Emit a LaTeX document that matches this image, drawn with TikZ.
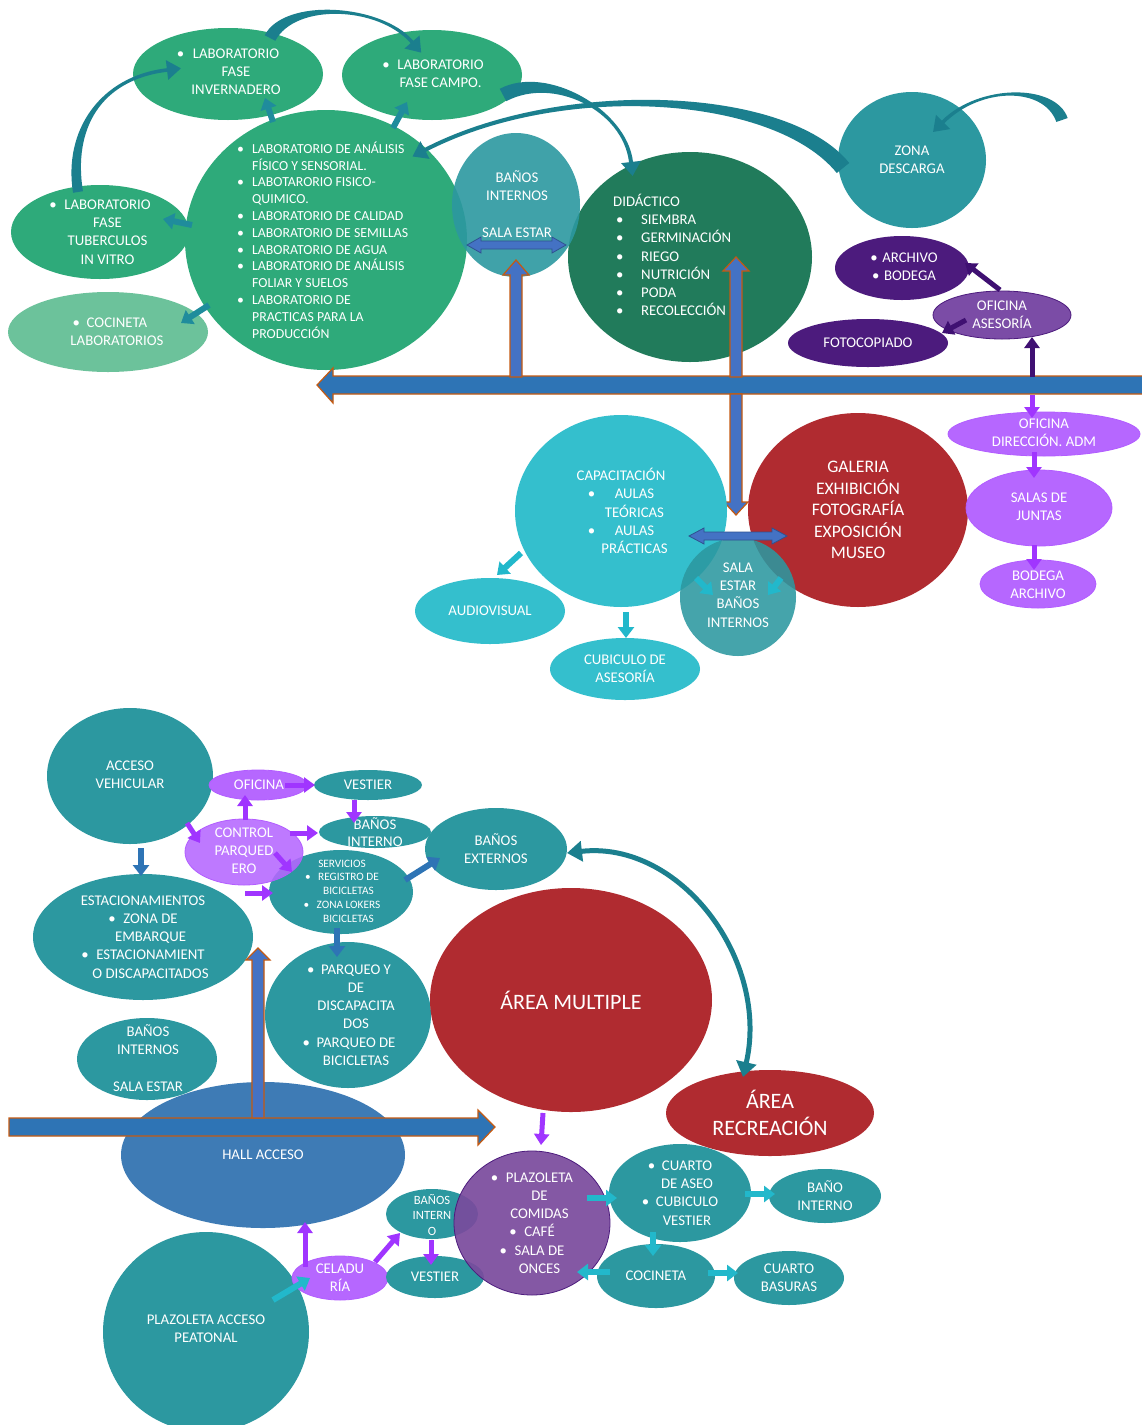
\documentclass[tikz,border=0pt]{standalone}
\usepackage{fontspec}
\setmainfont{Carlito}
\usetikzlibrary{shapes.geometric,arrows.meta,calc}
\definecolor{cgreen}{HTML}{2EAA7A}
\definecolor{clgreen}{HTML}{6CC29B}
\definecolor{cdgreen}{HTML}{217B5B}
\definecolor{cteal}{HTML}{2C98A0}
\definecolor{ccyan}{HTML}{34BFCD}
\definecolor{cred}{HTML}{B02B30}
\definecolor{cviolet}{HTML}{B667FF}
\definecolor{cvarrow}{HTML}{A035FF}
\definecolor{cdpurple}{HTML}{4C1B7D}
\definecolor{cmpurple}{HTML}{7B4CA6}
\definecolor{cppurple}{HTML}{7A4A9D}
\definecolor{cbar}{HTML}{2E74B5}
\definecolor{cvbar}{HTML}{4472C4}
\definecolor{cdblue}{HTML}{2F528F}
\definecolor{corange}{HTML}{C55A11}
\definecolor{chall}{HTML}{3E7BB5}
\definecolor{ctarrow}{HTML}{1F8C9C}
\definecolor{ccurve}{HTML}{1B7F8E}
\definecolor{ccarrow}{HTML}{22B8CB}
\definecolor{cdparrow}{HTML}{3F1072}
\definecolor{cbarrow}{HTML}{2E74B5}
\newcommand{\bulx}[1]{\makebox[#1pt][l]{•}}
\newcommand{\indx}[1]{\hspace*{#1pt}}
\newcommand{\fsN}{\fontsize{14.8}{18.2}\selectfont}
\newcommand{\fsL}{\fontsize{13.8}{16.8}\selectfont}
\newcommand{\fsG}{\fontsize{17.6}{21.5}\selectfont}
\newcommand{\fsB}{\fontsize{22}{27}\selectfont}
\newcommand{\fsS}{\fontsize{11.3}{13.7}\selectfont}
\newcommand{\fsM}{\fontsize{12.6}{15.5}\selectfont}
\newcommand{\blob}[6]{\node[blob, minimum width={2*#4pt}, minimum height={2*#5pt}, #6] (#1) at (#2,#3) {};}
\newcommand{\hdw}{10pt}
\newcommand{\hdl}{-14pt}
% tapered curved arrow: colour, P0, P1, P2, P3 (head base), tail half width, end half width
\newcommand{\taper}[7]{%
  \fill[#1] ($#2!#6!90:#3$) .. controls ($#3!#6!-90:#2$) and ($#4!#7!90:#5$) .. ($#5!#7!-90:#4$)
    -- ($#5!\hdw!-90:#4$) -- ($#5!\hdl!#4$) -- ($#5!\hdw!90:#4$) -- ($#5!#7!90:#4$)
    .. controls ($#4!#7!-90:#5$) and ($#3!#6!90:#2$) .. ($#2!#6!-90:#3$) -- cycle;}
\tikzset{
  blob/.style={ellipse, inner sep=0pt, outer sep=0pt},
  txt/.style={text=white, align=center, inner sep=0pt, font=\fsN},
  tarr/.style={draw=ctarrow, line width=6pt, -{Triangle[width=16pt,length=11pt]}},
  varr/.style={draw=cvarrow, line width=5pt, -{Triangle[width=15pt,length=11pt]}},
  carr/.style={draw=ccarrow, line width=6pt, -{Triangle[width=16pt,length=11pt]}},
  barr/.style={draw=cbarrow, line width=6pt, -{Triangle[width=16pt,length=11pt]}},
  parr/.style={draw=cdparrow, line width=5pt, -{Triangle[width=15pt,length=11pt]}},
  curv/.style={draw=ccurve, line width=6pt, -{Triangle[width=20pt,length=15pt]}},
  blockshape/.style={fill=cvbar, draw=corange, line width=1.2pt},
  barshape/.style={fill=cbar, draw=corange, line width=1.2pt},
  dblshape/.style={fill=cvbar, draw=cdblue, line width=0.8pt},
}
\begin{document}
\begin{tikzpicture}[x=1pt,y=-1pt]
\useasboundingbox (0,0) rectangle (1142,1425);
\fill[white] (0,0) rectangle (1142,1425);

% ---------------- top section
\blob{inv}{228}{74}{95}{46}{fill=cgreen}
\blob{campo}{432}{75}{90}{45}{fill=cgreen}
\blob{tub}{100}{232}{89}{47}{fill=cgreen}
\blob{coc}{108}{332}{100}{40}{fill=clgreen}
\blob{lab}{326}{240}{141}{130}{fill=cgreen}
\blob{did}{690}{257}{122}{105}{fill=cdgreen}
\blob{bi}{516}{205}{64}{72}{fill=cteal, fill opacity=0.9}
\blob{zona}{912}{160}{74}{68}{fill=cteal}
\blob{arch}{902}{268}{67}{32}{fill=cdpurple}
\blob{foto}{868}{343}{80}{24}{fill=cdpurple}
\blob{ases}{1002}{315}{69}{24}{fill=cmpurple, draw=cdpurple, line width=0.8pt}

\node[txt] (inv-t) at (228,72) {\bulx{16}LABORATORIO\\\indx{16}FASE\\\indx{16}INVERNADERO};
\node[txt] (campo-t) at (433,74) {\bulx{15}LABORATORIO\\\indx{15}FASE CAMPO.};
\node[txt] (tub-t) at (100,232) {\bulx{15}LABORATORIO\\\indx{15}FASE\\\indx{15}TUBERCULOS\\\indx{15}IN VITRO};
\node[txt] (coc-t) at (110,332) {\bulx{14}COCINETA\\\indx{14}LABORATORIOS};
\node[txt, align=left, font=\fsL, anchor=west] (lab-t) at (237,240) {\bulx{15}LABORATORIO DE ANÁLISIS\\\indx{15}FÍSICO Y SENSORIAL.\\\bulx{15}LABOTARORIO FISICO-\\\indx{15}QUIMICO.\\\bulx{15}LABORATORIO DE CALIDAD\\\bulx{15}LABORATORIO DE SEMILLAS\\\bulx{15}LABORATORIO DE AGUA\\\bulx{15}LABORATORIO DE ANÁLISIS\\\indx{15}FOLIAR Y SUELOS\\\bulx{15}LABORATORIO DE\\\indx{15}PRACTICAS PARA LA\\\indx{15}PRODUCCIÓN};
\node[txt] (bi-t) at (517,204) {BAÑOS\\INTERNOS\\[19pt]SALA ESTAR};
\node[txt, align=left, anchor=west] (did-t) at (613,255) {DIDÁCTICO\\\indx{3}\bulx{25}SIEMBRA\\\indx{3}\bulx{25}GERMINACIÓN\\\indx{3}\bulx{25}RIEGO\\\indx{3}\bulx{25}NUTRICIÓN\\\indx{3}\bulx{25}PODA\\\indx{3}\bulx{25}RECOLECCIÓN};
\node[txt] (zona-t) at (912,160) {ZONA\\DESCARGA};
\node[txt] (arch-t) at (904,267) {\bulx{12}ARCHIVO\\\bulx{12}BODEGA};
\node[txt] (ases-t) at (1002,315) {OFICINA\\ASESORÍA};
\node[txt] (foto-t) at (868,343) {FOTOCOPIADO};

% main top bar
\filldraw[barshape] (1150,376) -- (333,376) -- (333,368) -- (317,385) -- (333,403) -- (333,394) -- (1150,394) -- cycle;
\coordinate (bt1) at (1032,377);
\coordinate (bb1) at (1032,395);
% vertical block arrows
\filldraw[blockshape] (510,377) -- (510,275) -- (503,275) -- (516,260) -- (529,275) -- (522,275) -- (522,377) -- cycle;
\filldraw[blockshape] (730,377) -- (730,271) -- (723,271) -- (736,257) -- (749,271) -- (742,271) -- (742,377) -- cycle;
\filldraw[blockshape] (730,394) -- (730,502) -- (724,502) -- (736,515) -- (748,502) -- (742,502) -- (742,394) -- cycle;
% double arrow in banos internos
\filldraw[dblshape] (467,245) -- (481,237) -- (481,241) -- (552,241) -- (552,237) -- (566,245) -- (552,253) -- (552,249) -- (481,249) -- (481,253) -- cycle;

% small arrows top
\draw[tarr] ([shift={(-53,-118)}]lab.center) -- ([shift={(37,24)}]inv.center);
\draw[tarr] ([shift={(67,-112)}]lab.center) -- ([shift={(-25,27)}]campo.center);
\draw[tarr] ([shift={(-134,-15)}]lab.center) -- ([shift={(63,-13)}]tub.center);
\draw[tarr] ([shift={(-117,65)}]lab.center) -- ([shift={(73,-9)}]coc.center);
% curved tapered arrows top
\coordinate (c1s) at ([shift={(42,-36)}]inv.center);
\coordinate (c1e) at ([shift={(-20,-33)}]campo.center);
\taper{ccurve}{(c1s)}{(290,0)}{(380,5)}{(c1e)}{6pt}{1.8pt}
\coordinate (c2s) at ([shift={(-22,-40)}]tub.center);
\coordinate (c2e) at ([shift={(-61,-4)}]inv.center);
\taper{ccurve}{(c2s)}{(68,130)}{(100,78)}{(c2e)}{5pt}{1.8pt}
\coordinate (c3s) at ([shift={(71,20)}]campo.center);
\coordinate (c3e) at ([shift={(-59,-95)}]did.center);
\taper{ccurve}{(c3s)}{(550,70)}{(625,110)}{(c3e)}{7pt}{2pt}
\coordinate (c4s) at ([shift={(-69,8)}]zona.center);
\coordinate (c4e) at ([shift={(99,-90)}]lab.center);
\taper{ccurve}{(c4s)}{(780,90)}{(560,80)}{(c4e)}{8pt}{2pt}
\coordinate (ztail) at (1062,120);
\coordinate (c5e) at ([shift={(31,-38)}]zona.center);
\taper{ccurve}{(ztail)}{(1050,85)}{(980,85)}{(c5e)}{6pt}{1.8pt}
% purple arrows
\draw[parr] ([shift={(-2,-25)}]ases.center) -- ([shift={(63,-5)}]arch.center);
\draw[parr] ([shift={(-36,5)}]ases.center) -- ([shift={(74,-10)}]foto.center);
\draw[parr] (bt1) -- ([shift={(30,22)}]ases.center);

% ---------------- middle section
\blob{cap}{621}{511}{106}{96}{fill=ccyan}
\blob{gal}{858}{510}{110}{97}{fill=cred}
\blob{se}{738}{597}{58}{59}{fill=cteal, fill opacity=0.88}
\blob{aud}{490}{611}{75}{33}{fill=ccyan}
\blob{cub}{625}{669}{75}{31}{fill=ccyan}
\blob{odir}{1044}{434}{96}{22}{fill=cviolet, draw=cviolet!80!cvarrow, line width=0.8pt}
\blob{salas}{1039}{508}{73}{38}{fill=cviolet, draw=cviolet!80!cvarrow, line width=0.8pt}
\blob{bod}{1038}{584}{58}{24}{fill=cviolet, draw=cviolet!80!cvarrow, line width=0.8pt}

\node[txt] (cap-t) at (621,511) {CAPACITACIÓN\\\bulx{27}AULAS\\\indx{27}TEÓRICAS\\\bulx{27}AULAS\\\indx{27}PRÁCTICAS};
\node[txt, font=\fsG] (gal-t) at (858,510) {GALERIA\\EXHIBICIÓN\\FOTOGRAFÍA\\EXPOSICIÓN\\MUSEO};
\node[txt] (se-t) at (738,595) {SALA\\ESTAR\\BAÑOS\\INTERNOS};
\node[txt] (aud-t) at (490,611) {AUDIOVISUAL};
\node[txt] (cub-t) at (625,669) {CUBICULO DE\\ASESORÍA};
\node[txt] (odir-t) at (1044,433) {OFICINA\\DIRECCIÓN. ADM};
\node[txt] (salas-t) at (1039,507) {SALAS DE\\JUNTAS};
\node[txt] (bod-t) at (1038,585) {BODEGA\\ARCHIVO};

\filldraw[dblshape] (689,536) -- (704,528) -- (704,532) -- (772,532) -- (772,528) -- (787,536) -- (772,544) -- (772,540) -- (704,540) -- (704,544) -- cycle;
\draw[varr] (bb1) -- ([shift={(-12,-16)}]odir.center);
\draw[varr] ([shift={(-10,18)}]odir.center) -- ([shift={(-5,-30)}]salas.center);
\draw[varr] ([shift={(-5,37)}]salas.center) -- ([shift={(-4,-14)}]bod.center);
\draw[carr] ([shift={(-100,42)}]cap.center) -- ([shift={(7,-36)}]aud.center);
\draw[carr] ([shift={(5,101)}]cap.center) -- ([shift={(1,-31)}]cub.center);
\draw[carr] ([shift={(-42,-19)}]se.center) -- ([shift={(-25,-2)}]se.center);
\draw[carr] ([shift={(43,-19)}]se.center) -- ([shift={(30,-2)}]se.center);

% ---------------- bottom section
\blob{acc}{130}{776}{83}{68}{fill=cteal}
\blob{ofi}{258}{785}{49}{15}{fill=cviolet, draw=cviolet!80!cvarrow, line width=0.8pt}
\blob{ves}{368}{785}{54}{15}{fill=cteal}
\blob{bin}{375}{832}{56}{16}{fill=cteal}
\blob{serv}{341}{892}{72}{42}{fill=cteal}
\blob{ctrl}{244}{852}{59}{33}{fill=cviolet, fill opacity=0.88, draw=cviolet!80!cvarrow, line width=0.8pt}
\blob{bext}{496}{849}{71}{41}{fill=cteal}
\blob{est}{143}{937}{110}{63}{fill=cteal}
\blob{parq}{348}{1015}{83}{73}{fill=cteal}
\blob{amul}{571}{1000}{141}{112}{fill=cred}
\blob{bis}{147}{1059}{70}{41}{fill=cteal}
\blob{hall}{263}{1155}{142}{73}{fill=chall}
\blob{arec}{770}{1113}{104}{43}{fill=cred}
\blob{pac}{206}{1332}{103}{100}{fill=cteal}
\blob{cel}{340}{1278}{48}{22}{fill=cviolet, draw=cviolet!80!cvarrow, line width=0.8pt}
\blob{bin2}{432}{1214}{46}{25}{fill=cteal}
\blob{ves2}{435}{1277}{49}{21}{fill=cteal}
\blob{pcom}{532}{1223}{78}{72}{fill=cppurple, fill opacity=0.92, draw=cdpurple, line width=0.8pt}
\blob{casc}{680}{1193}{71}{49}{fill=cteal}
\blob{bint}{825}{1196}{56}{27}{fill=cteal}
\blob{coci}{656}{1276}{59}{32}{fill=cteal}
\blob{cbas}{789}{1278}{55}{27}{fill=cteal}

% bottom bar and vertical block arrow
\filldraw[barshape] (9,1118) -- (478,1118) -- (478,1110) -- (495,1127) -- (478,1145) -- (478,1136) -- (9,1136) -- cycle;
\filldraw[blockshape] (252,1118) -- (252,960) -- (246,960) -- (258,948) -- (270,960) -- (264,960) -- (264,1118) -- cycle;

\node[txt] (acc-t) at (130,775) {ACCESO\\VEHICULAR};
\node[txt] (ofi-t) at (259,785) {OFICINA};
\node[txt] (ves-t) at (368,785) {VESTIER};
\node[txt] (ctrl-t) at (244,851) {CONTROL\\PARQUED\\ERO};
\node[txt, font=\fontsize{14.8}{17}\selectfont] (bin-t) at (375,832) {BAÑOS\\INTERNO};
\node[txt, font=\fsS] (serv-t) at (342,891) {SERVICIOS\\\bulx{13}REGISTRO DE\\\indx{13}BICICLETAS\\\bulx{13}ZONA LOKERS\\\indx{13}BICICLETAS};
\node[txt] (bext-t) at (496,849) {BAÑOS\\EXTERNOS};
\node[txt] (est-t) at (143,937) {ESTACIONAMIENTOS\\\bulx{15}ZONA DE\\\indx{15}EMBARQUE\\\bulx{15}ESTACIONAMIENT\\\indx{15}O DISCAPACITADOS};
\node[txt] (parq-t) at (349,1015) {\bulx{14}PARQUEO Y\\\indx{14}DE\\\indx{14}DISCAPACITA\\\indx{14}DOS\\\bulx{14}PARQUEO DE\\\indx{14}BICICLETAS};
\node[txt, font=\fsB] (amul-t) at (571,1000) {ÁREA MULTIPLE};
\node[txt] (bis-t) at (148,1058) {BAÑOS\\INTERNOS\\[19pt]SALA ESTAR};
\node[txt] (hall-t) at (263,1155) {HALL ACCESO};
\node[txt, font=\fsB] (arec-t) at (770,1113) {ÁREA\\RECREACIÓN};
\node[txt] (pac-t) at (206,1329) {PLAZOLETA ACCESO\\PEATONAL};
\node[txt] (cel-t) at (340,1278) {CELADU\\RÍA};
\node[txt, font=\fsM] (bin2-t) at (432,1215) {BAÑOS\\INTERN\\O};
\node[txt] (ves2-t) at (435,1277) {VESTIER};
\node[txt] (pcom-t) at (532,1223) {\bulx{15}PLAZOLETA\\\indx{15}DE\\\indx{15}COMIDAS\\\bulx{15}CAFÉ\\\bulx{15}SALA DE\\\indx{15}ONCES};
\node[txt] (casc-t) at (680,1193) {\bulx{14}CUARTO\\\indx{14}DE ASEO\\\bulx{14}CUBICULO\\\indx{14}VESTIER};
\node[txt] (bint-t) at (825,1196) {BAÑO\\INTERNO};
\node[txt] (coci-t) at (656,1276) {COCINETA};
\node[txt] (cbas-t) at (789,1278) {CUARTO\\BASURAS};

% bottom arrows
\draw[barr] ([shift={(11,72)}]acc.center) -- ([shift={(-2,-61)}]est.center);
\draw[barr] ([shift={(-4,36)}]serv.center) -- ([shift={(-11,-58)}]parq.center);
\draw[barr] ([shift={(64,-12)}]serv.center) -- ([shift={(-56,9)}]bext.center);
\draw[varr] ([shift={(57,47)}]acc.center) -- ([shift={(-44,-9)}]ctrl.center);
\draw[varr] ([shift={(1,-32)}]ctrl.center) -- ([shift={(-13,10)}]ofi.center);
\draw[varr] ([shift={(27,0)}]ofi.center) -- ([shift={(-53,0)}]ves.center);
\draw[varr] ([shift={(-14,15)}]ves.center) -- ([shift={(-21,-9)}]bin.center);
\draw[varr] ([shift={(46,-19)}]ctrl.center) -- ([shift={(-57,1)}]bin.center);
\draw[varr] ([shift={(31,1)}]ctrl.center) -- ([shift={(-49,-20)}]serv.center);
\draw[varr] ([shift={(102,-44)}]est.center) -- ([shift={(-68,1)}]serv.center);
\draw[varr] ([shift={(-28,113)}]amul.center) -- ([shift={(9,-78)}]pcom.center);
\draw[varr] ([shift={(-35,-11)}]cel.center) -- ([shift={(42,67)}]hall.center);
\draw[carr] ([shift={(67,-32)}]pac.center) -- ([shift={(-30,0)}]cel.center);
\draw[varr] ([shift={(35,-16)}]cel.center) -- ([shift={(-32,19)}]bin2.center);
\draw[varr] ([shift={(-1,26)}]bin2.center) -- ([shift={(-4,-12)}]ves2.center);
\draw[carr] ([shift={(55,-25)}]pcom.center) -- ([shift={(-63,5)}]casc.center);
\draw[carr] ([shift={(65,1)}]casc.center) -- ([shift={(-50,-2)}]bint.center);
\draw[carr] ([shift={(-27,39)}]casc.center) -- ([shift={(-3,-20)}]coci.center);
\draw[carr] ([shift={(-46,-4)}]coci.center) -- ([shift={(45,49)}]pcom.center);
\draw[carr] ([shift={(52,-3)}]coci.center) -- ([shift={(-51,-5)}]cbas.center);
\draw[curv, line width=5pt, {Triangle[width=20pt,length=15pt]}-{Triangle[width=20pt,length=15pt]}] ([shift={(71,4)}]bext.center) .. controls (680,840) and (770,960) .. ([shift={(-27,-36)}]arec.center);
\end{tikzpicture}
\end{document}
